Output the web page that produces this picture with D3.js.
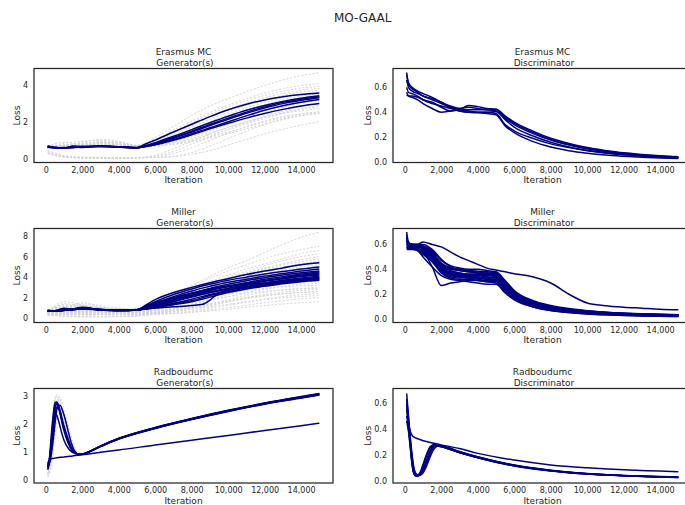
<!DOCTYPE html>
<html><head><meta charset="utf-8">
<script src="https://cdn.jsdelivr.net/npm/d3@7"></script>
<style>
html,body{margin:0;padding:0;background:#fff;}
svg text{font-family:"DejaVu Sans",sans-serif;fill:#262626;}
</style></head>
<body><svg id="chart" width="685" height="505"></svg>
<script>
// ---------- DATA ----------
const chartTitle = "MO-GAAL";
const xTicks = [0,2000,4000,6000,8000,10000,12000,14000];

const xCoarse = [100,1000,2000,3000,4000,5000,6000,7000,8000,9000,10000,11000,12000,13000,14000,15000];
const xGenBlue = [100,500,1000,1500,2000,3000,4000,5000,5500,6000,7000,8000,9000,10000,11000,12000,13000,14000,15000];
const xDisc = [100,200,400,700,1000,1500,2000,2500,3000,3500,4000,4500,5000,5500,6000,7000,8000,9000,10000,11000,12000,13000,14000,15000];
const xRad = [100,200,300,400,500,600,700,800,900,1000,1200,1400,1600,1800,2000,3000,4000,6000,8000,10000,12000,14000,15000];
const xMillerSpecial = [100,500,1000,1500,2000,3000,4000,5000,5500,6000,7000,8000,8600,9000,9400,10000,11000,12000,13000,14000,15000];

// Erasmus MC generators
const erasmusGenGray = [
 [0.6,0.85,0.95,1.0,0.9,0.75,1.15,1.75,2.35,2.85,3.25,3.62,3.95,4.25,4.48,4.65],
 [0.65,0.75,0.8,0.95,0.85,0.7,1.05,1.55,2.05,2.5,2.9,3.25,3.55,3.78,3.95,4.05],
 [0.6,0.7,0.85,0.9,0.8,0.68,1.0,1.45,1.95,2.4,2.8,3.15,3.42,3.65,3.82,3.9],
 [0.7,0.9,0.75,0.85,0.9,0.72,0.95,1.35,1.8,2.25,2.65,3.0,3.3,3.52,3.7,3.8],
 [0.62,0.68,0.72,0.8,0.75,0.65,0.9,1.25,1.7,2.12,2.52,2.88,3.18,3.42,3.6,3.7],
 [0.58,0.65,0.7,0.78,0.8,0.66,0.88,1.2,1.6,2.0,2.4,2.75,3.05,3.3,3.48,3.6],
 [0.66,0.72,0.68,0.9,0.7,0.64,0.85,1.15,1.52,1.9,2.28,2.62,2.92,3.18,3.38,3.5],
 [0.6,0.62,0.66,0.7,0.72,0.63,0.8,1.05,1.4,1.78,2.15,2.5,2.82,3.08,3.3,3.45],
 [0.64,0.7,0.74,0.76,0.68,0.62,0.78,1.0,1.3,1.65,2.0,2.35,2.65,2.92,3.12,3.28],
 [0.6,0.66,0.7,0.82,0.76,0.66,0.76,0.95,1.22,1.52,1.85,2.18,2.5,2.78,3.0,3.15],
 [0.68,0.75,0.9,1.05,0.95,0.7,0.74,0.9,1.12,1.4,1.7,2.0,2.3,2.58,2.82,3.0],
 [0.62,0.64,0.68,0.72,0.7,0.65,0.72,0.85,1.05,1.3,1.58,1.88,2.18,2.45,2.7,2.88],
 [0.58,0.6,0.64,0.68,0.66,0.6,0.68,0.8,0.98,1.2,1.45,1.72,1.98,2.22,2.42,2.55],
 [0.65,0.72,0.8,0.86,0.82,0.68,0.7,0.78,0.92,1.12,1.36,1.62,1.88,2.12,2.32,2.45],
 [0.35,0.12,0.06,0.05,0.05,0.06,0.1,0.3,0.6,1.0,1.4,1.75,2.05,2.28,2.42,2.5],
 [0.3,0.1,0.05,0.04,0.04,0.05,0.08,0.15,0.35,0.7,1.1,1.5,1.85,2.15,2.35,2.45],
 [0.4,0.15,0.08,0.06,0.06,0.07,0.08,0.12,0.25,0.45,0.75,1.05,1.35,1.6,1.82,2.0],
 [0.28,0.1,0.06,0.05,0.05,0.06,0.2,0.55,0.95,1.35,1.7,2.0,2.25,2.45,2.6,2.7],
 [0.45,0.2,0.1,0.08,0.07,0.08,0.15,0.4,0.8,1.2,1.6,1.95,2.25,2.5,2.68,2.8]
];
const erasmusGenBlue = [
 [0.68,0.62,0.6,0.66,0.64,0.7,0.66,0.62,0.82,1.02,1.45,1.87,2.28,2.65,2.95,3.18,3.35,3.47,3.55],
 [0.66,0.6,0.58,0.7,0.66,0.68,0.64,0.6,0.72,0.88,1.22,1.58,1.95,2.3,2.62,2.88,3.1,3.27,3.4],
 [0.64,0.6,0.6,0.62,0.68,0.66,0.65,0.61,0.7,0.82,1.12,1.45,1.8,2.14,2.46,2.74,2.98,3.16,3.3],
 [0.7,0.63,0.6,0.64,0.62,0.7,0.66,0.6,0.68,0.78,1.05,1.36,1.68,2.0,2.32,2.62,2.86,3.05,3.2],
 [0.65,0.6,0.62,0.6,0.65,0.68,0.63,0.61,0.67,0.76,1.0,1.3,1.62,1.92,2.2,2.45,2.67,2.85,2.98],
 [0.67,0.61,0.59,0.63,0.66,0.69,0.65,0.6,0.7,0.84,1.16,1.5,1.86,2.2,2.52,2.8,3.05,3.22,3.35]
];
// Erasmus MC discriminator
const erasmusDisc = [
 [0.72,0.62,0.59,0.56,0.53,0.5,0.47,0.44,0.42,0.41,0.4,0.4,0.39,0.3,0.25,0.19,0.145,0.115,0.09,0.072,0.058,0.048,0.04,0.034],
 [0.66,0.6,0.57,0.55,0.53,0.51,0.48,0.45,0.43,0.42,0.42,0.42,0.42,0.36,0.31,0.24,0.18,0.14,0.11,0.088,0.07,0.057,0.047,0.04],
 [0.56,0.53,0.52,0.5,0.47,0.43,0.4,0.41,0.42,0.455,0.445,0.43,0.425,0.37,0.32,0.25,0.19,0.148,0.115,0.092,0.073,0.06,0.049,0.041],
 [0.6,0.56,0.55,0.53,0.5,0.47,0.45,0.43,0.41,0.4,0.4,0.4,0.405,0.35,0.3,0.23,0.175,0.135,0.105,0.083,0.066,0.054,0.044,0.037],
 [0.7,0.64,0.6,0.57,0.55,0.52,0.48,0.44,0.41,0.4,0.395,0.39,0.38,0.29,0.235,0.165,0.12,0.09,0.07,0.055,0.045,0.037,0.031,0.027],
 [0.54,0.53,0.53,0.52,0.5,0.48,0.44,0.41,0.43,0.44,0.43,0.42,0.41,0.34,0.28,0.21,0.158,0.12,0.093,0.074,0.06,0.05,0.042,0.035]
];

// Miller generators
const millerGenGray = [
 [0.8,1.1,1.0,0.9,0.85,0.8,1.6,2.4,3.2,4.1,4.9,5.6,6.4,7.2,7.9,8.4],
 [0.7,1.6,1.3,1.0,0.9,0.85,1.5,2.3,3.1,3.9,4.6,5.2,5.8,6.3,6.7,7.0],
 [0.6,0.9,1.4,1.1,0.8,0.75,1.4,2.2,2.9,3.6,4.2,4.8,5.3,5.8,6.3,6.6],
 [0.75,1.2,1.1,0.95,0.9,0.8,1.3,2.0,2.7,3.4,4.0,4.6,5.1,5.6,6.0,6.3],
 [0.65,0.8,0.9,0.85,0.8,0.7,1.2,1.9,2.6,3.2,3.8,4.4,4.9,5.3,5.7,6.0],
 [0.7,1.0,1.2,1.0,0.85,0.8,1.4,2.2,2.9,3.4,3.9,4.4,4.8,5.2,5.5,5.8],
 [0.6,0.7,0.8,0.75,0.7,0.65,1.1,1.8,2.4,3.0,3.6,4.1,4.6,5.0,5.3,5.6],
 [0.8,1.3,1.1,0.9,0.8,0.75,1.2,1.9,2.5,3.1,3.6,4.1,4.5,4.9,5.2,5.4],
 [0.55,0.6,0.7,0.7,0.65,0.6,0.9,1.5,2.1,2.7,3.3,3.8,4.3,4.7,5.0,5.2],
 [0.7,0.9,1.0,0.9,0.8,0.75,1.3,2.0,2.6,3.1,3.5,3.9,4.3,4.6,4.8,5.0],
 [0.65,0.75,0.85,0.8,0.75,0.7,1.0,1.6,2.2,2.7,3.2,3.6,4.0,4.3,4.6,4.8],
 [0.6,1.4,1.2,1.0,0.9,0.8,1.2,1.8,2.4,2.9,3.3,3.7,4.0,4.3,4.5,4.6],
 [0.5,0.55,0.6,0.62,0.6,0.58,0.8,1.2,1.7,2.2,2.7,3.1,3.5,3.9,4.2,4.4],
 [0.75,0.9,0.8,0.85,0.8,0.72,1.1,1.7,2.3,2.8,3.2,3.5,3.8,4.0,4.1,4.2],
 [0.6,0.65,0.7,0.72,0.7,0.65,0.9,1.4,1.9,2.4,2.8,3.2,3.5,3.7,3.9,4.0],
 [0.45,0.5,0.5,0.55,0.52,0.5,0.6,0.9,1.3,1.8,2.3,2.8,3.2,3.5,3.7,3.8],
 [0.7,1.0,0.95,0.9,0.85,0.75,1.0,1.5,2.0,2.4,2.8,3.1,3.3,3.45,3.55,3.6],
 [0.4,0.45,0.5,0.5,0.5,0.48,0.6,0.9,1.3,1.7,2.1,2.5,2.8,3.1,3.3,3.4],
 [0.55,0.6,0.65,0.6,0.6,0.55,0.8,1.2,1.7,2.1,2.4,2.7,2.9,3.05,3.15,3.2],
 [0.35,0.4,0.4,0.45,0.42,0.4,0.5,0.7,1.0,1.4,1.8,2.2,2.5,2.75,2.9,3.0],
 [0.6,0.8,0.7,0.65,0.62,0.6,0.7,1.0,1.4,1.8,2.1,2.4,2.6,2.75,2.85,2.9],
 [0.3,0.35,0.35,0.38,0.36,0.35,0.45,0.6,0.9,1.2,1.6,2.0,2.3,2.55,2.7,2.8],
 [0.5,0.55,0.6,0.58,0.55,0.5,0.6,0.8,1.1,1.4,1.7,2.0,2.2,2.4,2.5,2.6],
 [0.3,0.3,0.32,0.35,0.33,0.32,0.4,0.5,0.7,0.95,1.25,1.55,1.85,2.1,2.28,2.4],
 [0.45,0.5,0.5,0.5,0.5,0.45,0.5,0.65,0.85,1.1,1.35,1.6,1.8,1.98,2.1,2.2],
 [0.3,0.32,0.3,0.33,0.32,0.3,0.35,0.45,0.6,0.8,1.0,1.25,1.5,1.7,1.88,2.0],
 [0.35,0.2,0.15,0.14,0.15,0.2,0.38,0.45,0.55,0.7,0.85,1.05,1.22,1.38,1.5,1.6],
 [0.85,1.0,1.5,1.2,1.0,0.9,1.6,2.4,3.0,3.5,3.9,4.3,4.7,5.0,5.3,5.5],
 [0.7,0.8,0.75,0.8,0.75,0.7,1.1,1.7,2.3,2.8,3.2,3.6,3.9,4.2,4.4,4.5],
 [0.6,0.7,0.8,0.75,0.7,0.68,1.0,1.5,2.0,2.5,2.9,3.2,3.5,3.7,3.85,3.9],
 [0.4,0.15,0.1,0.12,0.14,0.25,0.5,0.75,1.0,1.3,1.6,1.9,2.15,2.35,2.5,2.6]
];
const millerGenBlue = [
 [0.75,0.7,0.8,0.9,1.0,0.85,0.75,0.8,1.3,1.8,2.5,3.0,3.45,3.85,4.25,4.6,4.9,5.2,5.4],
 [0.7,0.72,0.95,0.85,0.9,0.8,0.78,0.85,1.2,1.6,2.3,2.85,3.3,3.7,4.0,4.3,4.55,4.8,5.0],
 [0.72,0.7,0.75,0.85,0.95,0.82,0.76,0.8,1.1,1.45,2.1,2.65,3.1,3.5,3.8,4.1,4.35,4.6,4.8],
 [0.7,0.68,0.8,0.9,1.05,0.8,0.74,0.78,1.05,1.35,1.9,2.4,2.9,3.3,3.65,3.95,4.2,4.42,4.6],
 [0.74,0.7,0.78,0.82,0.9,0.84,0.77,0.82,1.0,1.25,1.75,2.2,2.7,3.1,3.45,3.8,4.05,4.3,4.5],
 [0.7,0.69,0.76,0.88,0.98,0.8,0.75,0.8,0.95,1.15,1.6,2.05,2.5,2.9,3.25,3.6,3.85,4.1,4.3],
 [0.73,0.71,0.8,0.86,0.92,0.83,0.76,0.81,1.05,1.4,1.95,2.45,2.85,3.15,3.4,3.65,3.85,4.05,4.2],
 [0.71,0.7,0.77,0.84,0.96,0.81,0.74,0.79,0.95,1.2,1.65,2.1,2.5,2.85,3.15,3.4,3.62,3.82,4.0],
 [0.72,0.69,0.79,0.87,0.93,0.82,0.75,0.8,0.9,1.05,1.45,1.85,2.3,2.7,3.0,3.3,3.55,3.75,3.9],
 [0.7,0.7,0.78,0.83,0.97,0.8,0.76,0.82,0.92,1.1,1.4,1.7,2.2,2.6,2.95,3.2,3.45,3.65,3.8],
 [0.74,0.71,0.76,0.85,0.91,0.83,0.75,0.8,0.88,1.0,1.3,1.6,2.05,2.5,2.85,3.1,3.35,3.55,3.7],
 [0.71,0.72,0.9,0.88,1.0,0.81,0.77,0.82,1.15,1.5,2.0,2.4,2.75,3.05,3.35,3.65,3.95,4.2,4.4],
 [0.73,0.7,0.77,0.84,0.94,0.82,0.75,0.79,1.0,1.3,1.8,2.25,2.6,2.9,3.2,3.45,3.7,3.92,4.1]
];
const millerGenBlueSpecial = [0.72,0.7,0.78,0.86,0.95,0.82,0.76,0.8,0.9,0.98,1.1,1.22,1.35,1.75,2.35,2.75,3.05,3.3,3.5,3.68,3.85];

// Miller discriminator
const millerDisc = [
 [0.70,0.62,0.60,0.60,0.59,0.55,0.47,0.43,0.41,0.40,0.40,0.39,0.38,0.31,0.23,0.15,0.11,0.085,0.068,0.056,0.048,0.042,0.038,0.035],
 [0.62,0.6,0.6,0.59,0.57,0.52,0.44,0.41,0.4,0.39,0.385,0.38,0.375,0.3,0.21,0.14,0.1,0.077,0.062,0.052,0.045,0.04,0.036,0.033],
 [0.58,0.58,0.58,0.57,0.55,0.5,0.42,0.4,0.39,0.38,0.37,0.37,0.36,0.28,0.2,0.13,0.09,0.07,0.056,0.047,0.04,0.035,0.031,0.028],
 [0.6,0.59,0.58,0.56,0.54,0.42,0.27,0.29,0.3,0.31,0.31,0.3,0.29,0.22,0.16,0.1,0.07,0.053,0.042,0.035,0.03,0.026,0.023,0.021],
 [0.65,0.61,0.6,0.59,0.58,0.52,0.4,0.36,0.35,0.34,0.34,0.33,0.33,0.25,0.18,0.115,0.08,0.062,0.05,0.042,0.036,0.032,0.028,0.025],
 [0.57,0.57,0.57,0.56,0.52,0.46,0.37,0.33,0.32,0.32,0.31,0.3,0.3,0.23,0.17,0.11,0.076,0.058,0.046,0.039,0.034,0.03,0.027,0.024],
 [0.6,0.6,0.59,0.58,0.56,0.5,0.41,0.38,0.36,0.35,0.355,0.35,0.35,0.27,0.19,0.125,0.088,0.068,0.055,0.046,0.04,0.035,0.031,0.028],
 [0.66,0.61,0.6,0.6,0.6,0.56,0.48,0.42,0.4,0.39,0.38,0.37,0.37,0.3,0.22,0.145,0.1,0.078,0.063,0.053,0.046,0.041,0.037,0.034],
 [0.59,0.58,0.57,0.55,0.5,0.42,0.35,0.32,0.31,0.3,0.29,0.28,0.28,0.21,0.155,0.1,0.07,0.054,0.043,0.036,0.031,0.027,0.024,0.022],
 [0.63,0.6,0.59,0.58,0.57,0.53,0.43,0.39,0.37,0.36,0.36,0.36,0.35,0.27,0.2,0.13,0.092,0.072,0.058,0.048,0.042,0.037,0.033,0.03],
 [0.56,0.56,0.56,0.55,0.53,0.47,0.39,0.35,0.34,0.33,0.33,0.32,0.32,0.25,0.18,0.12,0.083,0.064,0.052,0.043,0.037,0.033,0.029,0.026],
 [0.61,0.6,0.6,0.59,0.57,0.51,0.42,0.37,0.35,0.34,0.33,0.33,0.34,0.26,0.19,0.12,0.085,0.066,0.053,0.044,0.038,0.034,0.03,0.027],
 [0.58,0.57,0.57,0.56,0.54,0.48,0.38,0.34,0.33,0.34,0.35,0.35,0.34,0.27,0.2,0.135,0.095,0.074,0.06,0.05,0.043,0.038,0.034,0.031],
 [0.62,0.61,0.6,0.6,0.58,0.53,0.45,0.41,0.39,0.38,0.37,0.36,0.36,0.29,0.21,0.14,0.1,0.08,0.065,0.055,0.048,0.043,0.039,0.036],
 [0.6,0.59,0.58,0.57,0.55,0.49,0.4,0.36,0.34,0.33,0.32,0.31,0.31,0.24,0.17,0.11,0.078,0.06,0.048,0.04,0.034,0.03,0.026,0.023],
 [0.57,0.57,0.57,0.56,0.54,0.5,0.41,0.37,0.36,0.36,0.35,0.34,0.33,0.26,0.19,0.125,0.09,0.07,0.056,0.047,0.041,0.036,0.032,0.029],
 [0.64,0.6,0.59,0.59,0.58,0.54,0.44,0.39,0.37,0.36,0.36,0.35,0.35,0.28,0.2,0.13,0.093,0.073,0.059,0.049,0.043,0.038,0.034,0.031],
 [0.68,0.6,0.6,0.6,0.62,0.6,0.58,0.54,0.5,0.47,0.44,0.41,0.395,0.38,0.365,0.34,0.29,0.2,0.13,0.108,0.096,0.088,0.08,0.075]
];

// Radboudumc generators
const radGenGray = [
 [0.2,0.5,1.2,2.2,2.9,3.05,2.9,2.6,2.3,2.0,1.5,1.15,0.98,0.92,0.93,1.2,1.48,1.86,2.18,2.47,2.73,2.96,3.07],
 [0.1,0.3,0.9,1.8,2.6,3.0,3.0,2.8,2.5,2.2,1.65,1.2,1.0,0.92,0.92,1.2,1.47,1.85,2.17,2.46,2.72,2.95,3.06],
 [0.3,0.4,0.7,1.3,2.0,2.6,2.9,2.9,2.7,2.45,1.9,1.4,1.1,0.95,0.92,1.19,1.46,1.84,2.16,2.45,2.71,2.93,3.04],
 [0.15,0.6,1.5,2.4,2.8,2.75,2.5,2.2,1.9,1.65,1.3,1.05,0.95,0.9,0.91,1.2,1.47,1.86,2.18,2.47,2.73,2.96,3.07],
 [0.25,0.35,0.6,1.1,1.7,2.2,2.5,2.6,2.55,2.4,2.0,1.5,1.15,0.97,0.93,1.2,1.47,1.85,2.17,2.46,2.72,2.95,3.05],
 [0.1,0.2,0.5,1.0,1.6,2.1,2.3,2.3,2.2,2.0,1.6,1.25,1.02,0.93,0.92,1.2,1.48,1.87,2.19,2.48,2.74,2.97,3.08],
 [0.35,0.7,1.4,2.3,2.85,2.95,2.75,2.45,2.15,1.9,1.45,1.12,0.97,0.91,0.92,1.21,1.48,1.86,2.18,2.47,2.73,2.95,3.06],
 [0.2,0.45,1.0,1.9,2.6,2.85,2.8,2.6,2.35,2.1,1.6,1.2,1.0,0.92,0.92,1.19,1.46,1.85,2.17,2.45,2.71,2.94,3.05]
];
const radGenBlue = [
 [0.45,0.8,1.6,2.3,2.75,2.78,2.6,2.3,2.0,1.75,1.35,1.08,0.95,0.9,0.92,1.2,1.47,1.85,2.17,2.46,2.72,2.95,3.06],
 [0.5,0.6,0.9,1.4,2.0,2.5,2.66,2.65,2.5,2.3,1.8,1.3,1.0,0.9,0.91,1.19,1.46,1.84,2.16,2.45,2.71,2.93,3.04],
 [0.4,0.7,1.3,2.0,2.38,2.3,2.1,1.85,1.6,1.4,1.15,1.0,0.93,0.9,0.92,1.2,1.47,1.86,2.18,2.47,2.73,2.96,3.07],
 [0.55,0.7,1.2,1.9,2.5,2.7,2.6,2.35,2.05,1.8,1.4,1.1,0.96,0.9,0.91,1.19,1.46,1.85,2.17,2.46,2.72,2.94,3.05],
 [0.35,0.6,1.1,1.7,2.3,2.6,2.55,2.4,2.15,1.9,1.5,1.15,0.98,0.91,0.92,1.21,1.48,1.87,2.19,2.48,2.74,2.97,3.08],
 [0.6,0.75,1.4,2.1,2.6,2.75,2.65,2.4,2.1,1.85,1.45,1.12,0.97,0.9,0.91,1.18,1.45,1.83,2.15,2.44,2.7,2.92,3.03],
 [0.5,0.65,0.75,0.76,0.77,0.78,0.79,0.8,0.8,0.81,0.83,0.84,0.86,0.88,0.89,0.98,1.06,1.24,1.41,1.58,1.76,1.93,2.02]
];
// Radboudumc discriminator
const radDisc = [
 [0.67,0.5,0.32,0.16,0.07,0.045,0.04,0.05,0.07,0.1,0.17,0.24,0.275,0.272,0.265,0.22,0.182,0.12,0.082,0.057,0.043,0.034,0.03],
 [0.6,0.45,0.28,0.13,0.06,0.04,0.042,0.055,0.08,0.12,0.2,0.26,0.278,0.272,0.265,0.22,0.18,0.118,0.08,0.056,0.042,0.033,0.029],
 [0.55,0.42,0.3,0.18,0.09,0.055,0.045,0.045,0.055,0.075,0.14,0.21,0.26,0.272,0.268,0.225,0.185,0.122,0.083,0.058,0.044,0.035,0.031],
 [0.5,0.4,0.27,0.14,0.065,0.042,0.04,0.048,0.065,0.09,0.16,0.23,0.27,0.275,0.268,0.222,0.183,0.12,0.081,0.057,0.043,0.034,0.03],
 [0.46,0.38,0.25,0.12,0.055,0.04,0.045,0.06,0.09,0.13,0.21,0.265,0.278,0.27,0.263,0.218,0.18,0.117,0.079,0.055,0.042,0.033,0.029],
 [0.63,0.48,0.33,0.2,0.1,0.06,0.048,0.045,0.05,0.065,0.12,0.19,0.245,0.27,0.27,0.228,0.188,0.124,0.085,0.06,0.045,0.036,0.032],
 [0.58,0.45,0.38,0.35,0.337,0.33,0.325,0.32,0.315,0.31,0.303,0.296,0.29,0.284,0.278,0.25,0.213,0.162,0.125,0.103,0.088,0.078,0.073]
];

// ---------- DRAW ----------
const svg = d3.select("#chart");
const BLUE = "#000080", GRAY = "#d3d3d3", INK = "#262626";

svg.append("text").attr("x", 362.7).attr("y", 21.5).attr("text-anchor", "middle")
  .attr("font-size", 12).text(chartTitle);

const cols = [{x0: 34, x1: 333}, {x0: 393, x1: 692}];
const rows = [{y0: 68.5, y1: 162.5}, {y0: 228.5, y1: 322.5}, {y0: 388.5, y1: 483}];

const panels = [
 {r:0,c:0,name:"Erasmus MC",kind:"Generator(s)",dom:[-0.19,4.87],ticks:[0,2,4],fmt:d3.format("d"),
  series:[...erasmusGenGray.map(v=>({x:xCoarse,y:v,g:true})), ...erasmusGenBlue.map(v=>({x:xGenBlue,y:v}))]},
 {r:0,c:1,name:"Erasmus MC",kind:"Discriminator",dom:[-0.005,0.752],ticks:[0,0.2,0.4,0.6],fmt:d3.format(".1f"),
  series:erasmusDisc.map(v=>({x:xDisc,y:v}))},
 {r:1,c:0,name:"Miller",kind:"Generator(s)",dom:[-0.43,8.75],ticks:[0,2,4,6,8],fmt:d3.format("d"),
  series:[...millerGenGray.map(v=>({x:xCoarse,y:v,g:true})), ...millerGenBlue.map(v=>({x:xGenBlue,y:v})), {x:xMillerSpecial,y:millerGenBlueSpecial}]},
 {r:1,c:1,name:"Miller",kind:"Discriminator",dom:[-0.027,0.728],ticks:[0,0.2,0.4,0.6],fmt:d3.format(".1f"),
  series:millerDisc.map(v=>({x:xDisc,y:v}))},
 {r:2,c:0,name:"Radboudumc",kind:"Generator(s)",dom:[-0.12,3.26],ticks:[0,1,2,3],fmt:d3.format("d"),
  series:[...radGenGray.map(v=>({x:xRad,y:v,g:true})), ...radGenBlue.map(v=>({x:xRad,y:v}))]},
 {r:2,c:1,name:"Radboudumc",kind:"Discriminator",dom:[-0.013,0.708],ticks:[0,0.2,0.4,0.6],fmt:d3.format(".1f"),
  series:radDisc.map(v=>({x:xRad,y:v}))}
];

panels.forEach((p, i) => {
  const C = cols[p.c], R = rows[p.r];
  const x = d3.scaleLinear().domain([-650, 15750]).range([C.x0, C.x1]);
  const y = d3.scaleLinear().domain(p.dom).range([R.y1, R.y0]);
  const g = svg.append("g");
  const clipId = "clip" + i;
  g.append("clipPath").attr("id", clipId).append("rect")
    .attr("x", C.x0).attr("y", R.y0).attr("width", C.x1 - C.x0).attr("height", R.y1 - R.y0);
  const line = d3.line().x(d => x(d[0])).y(d => y(d[1])).curve(d3.curveMonotoneX);
  const plot = g.append("g").attr("clip-path", `url(#${clipId})`);
  p.series.forEach(s => {
    const n = Math.min(s.x.length, s.y.length);
    const pts = d3.range(n).map(k => [s.x[k], s.y[k]]);
    const path = plot.append("path").attr("d", line(pts)).attr("fill", "none");
    if (s.g) path.attr("stroke", GRAY).attr("stroke-width", 0.9).attr("stroke-dasharray", "2.2,1.6");
    else path.attr("stroke", BLUE).attr("stroke-width", 1.5).attr("stroke-linejoin", "round");
  });
  // frame
  g.append("rect").attr("x", C.x0).attr("y", R.y0).attr("width", C.x1 - C.x0).attr("height", R.y1 - R.y0)
    .attr("fill", "none").attr("stroke", INK).attr("stroke-width", 1.25);
  // x axis (labels only)
  const xa = d3.axisBottom(x).tickValues(xTicks).tickSize(0).tickPadding(0).tickFormat(d3.format(","));
  const gx = g.append("g").attr("transform", `translate(0,${R.y1})`).call(xa);
  gx.select(".domain").remove();
  gx.selectAll("text").attr("font-size", 8).attr("fill", INK).attr("y", 4.5).attr("dy", "0.71em")
    .attr("font-family", "DejaVu Sans, sans-serif");
  // y axis
  const ya = d3.axisLeft(y).tickValues(p.ticks).tickSize(0).tickPadding(0).tickFormat(p.fmt);
  const gy = g.append("g").attr("transform", `translate(${C.x0},0)`).call(ya);
  gy.select(".domain").remove();
  gy.selectAll("text").attr("font-size", 8).attr("fill", INK).attr("x", -6).attr("dy", "0.32em")
    .attr("font-family", "DejaVu Sans, sans-serif");
  let minX = Infinity;
  gy.selectAll("text").each(function(){ const b = this.getBBox(); minX = Math.min(minX, C.x0 + b.x); });
  // axis labels
  g.append("text").attr("x", (C.x0 + C.x1) / 2).attr("y", R.y1 + 20.5).attr("text-anchor", "middle")
    .attr("font-size", 9).text("Iteration");
  g.append("text").attr("transform", `translate(${minX - 3},${(R.y0 + R.y1) / 2}) rotate(-90)`)
    .attr("text-anchor", "middle").attr("font-size", 9).text("Loss");
  // title
  const t = g.append("text").attr("x", (C.x0 + C.x1) / 2).attr("text-anchor", "middle")
    .attr("font-size", 9).style("white-space", "pre");
  t.append("tspan").attr("x", (C.x0 + C.x1) / 2).attr("y", R.y0 - 13.5).text(p.name);
  t.append("tspan").attr("x", (C.x0 + C.x1) / 2).attr("y", R.y0 - 3).text(" " + p.kind);
});
</script>
</body></html>
